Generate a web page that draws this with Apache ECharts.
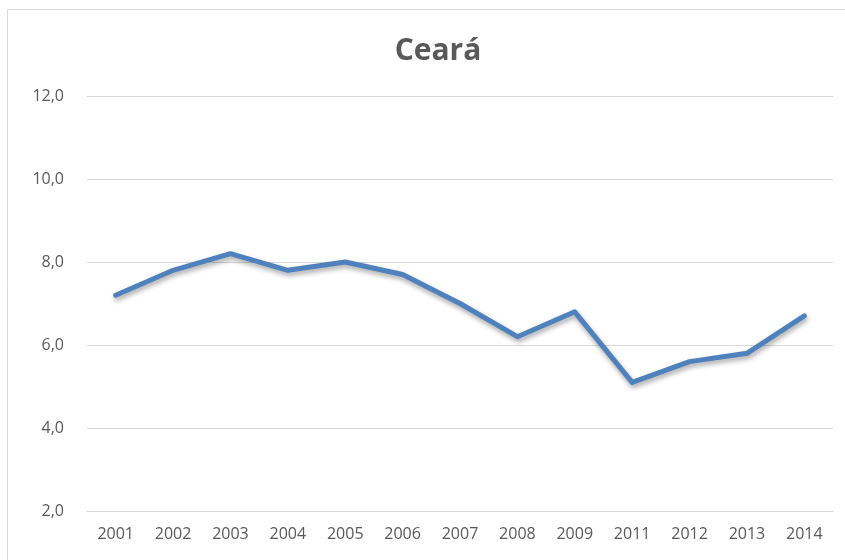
<!DOCTYPE html>
<html>
<head>
<meta charset="utf-8">
<script src="https://cdn.jsdelivr.net/npm/echarts@6/dist/echarts.min.js"></script>
<style>
html,body{margin:0;padding:0;background:#fff;}
#chart{width:845px;height:560px;}
</style>
</head>
<body>
<div id="chart"></div>
<script>
const categories = ["2001","2002","2003","2004","2005","2006","2007","2008","2009","2011","2012","2013","2014"];
const values = [7.2, 7.8, 8.2, 7.8, 8.0, 7.7, 7.0, 6.2, 6.8, 5.1, 5.6, 5.8, 6.7];
const titleText = "Ceará";

const chart = echarts.init(document.getElementById('chart'));
chart.setOption({
  animation: false,
  backgroundColor: '#fff',
  graphic: [{
    type: 'rect',
    shape: {x: 7.5, y: 9.5, width: 900, height: 600},
    style: {fill: 'none', stroke: '#d9d9d9', lineWidth: 1},
    silent: true
  }],
  title: {
    text: titleText,
    left: 433,
    textAlign: 'center',
    top: 31,
    textStyle: {fontFamily: 'Open Sans', fontWeight: 'bold', fontSize: 30, color: '#595959'}
  },
  grid: {left: 87, right: 12, top: 96, bottom: 49, containLabel: false},
  xAxis: {
    type: 'category',
    data: categories,
    boundaryGap: true,
    axisLine: {show: true, lineStyle: {color: '#d9d9d9', width: 1}},
    axisTick: {show: false},
    axisLabel: {color: '#595959', fontFamily: 'Open Sans', fontSize: 16, margin: 15}
  },
  yAxis: {
    type: 'value',
    min: 2, max: 12, interval: 2,
    axisLine: {show: false},
    axisTick: {show: false},
    splitLine: {lineStyle: {color: '#d9d9d9', width: 1}},
    axisLabel: {
      color: '#595959', fontFamily: 'Open Sans', fontSize: 16, margin: 23,
      formatter: v => v.toFixed(1).replace('.', ',')
    }
  },
  series: [{
    type: 'line',
    data: values,
    symbol: 'none',
    lineStyle: {color: '#4F81BD', width: 5, cap: 'round', join: 'round',
      shadowColor: 'rgba(0,0,0,0.35)', shadowBlur: 5, shadowOffsetY: 3, shadowOffsetX: 1}
  }]
});
</script>
</body>
</html>
